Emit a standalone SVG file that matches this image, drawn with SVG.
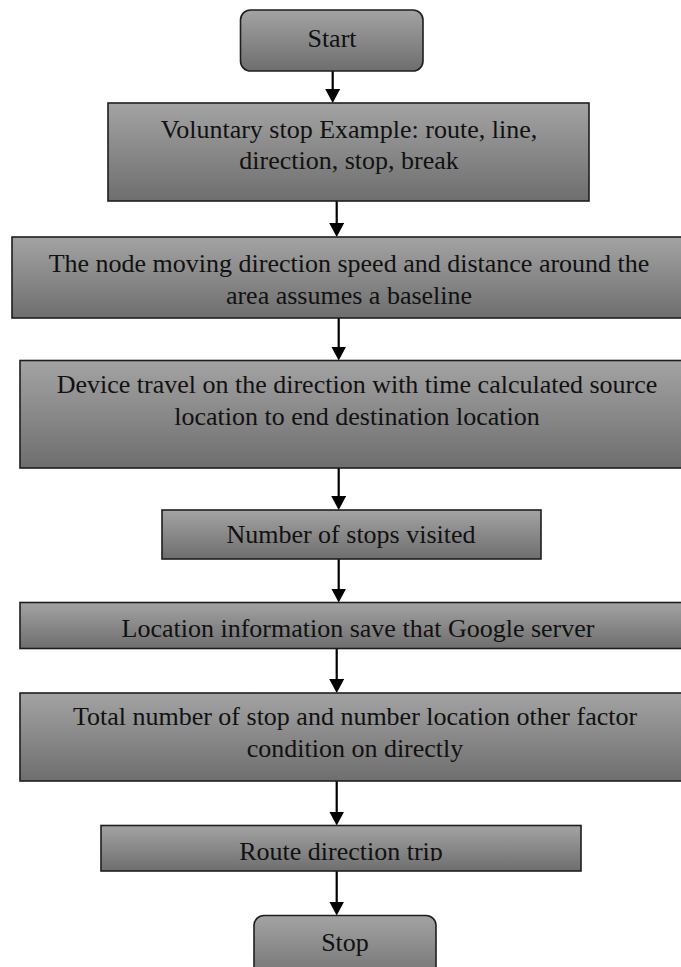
<svg xmlns="http://www.w3.org/2000/svg" width="681" height="967" viewBox="0 0 681 967">
<style>
.box{fill:url(#g);stroke:#1e1e1e;stroke-width:1.6}
.t{font-family:"Liberation Serif","Times New Roman",serif;font-size:26px;fill:#111;text-anchor:middle}
.c{stroke:#000;stroke-width:2.2;fill:none;marker-end:url(#ah)}
</style>
<defs>
<linearGradient id="g" x1="0" y1="0" x2="0" y2="1">
<stop offset="0" stop-color="#a3a3a3"/>
<stop offset="1" stop-color="#6e6e6e"/>
</linearGradient>
<marker id="ah" viewBox="0 0 14 15" refX="6" refY="7.5" markerWidth="14" markerHeight="15" markerUnits="userSpaceOnUse" orient="auto">
<path d="M0,0 L14,7.5 L0,15 z" fill="#000"/>
</marker>
<clipPath id="clip6"><rect x="0" y="590" width="681" height="52"/></clipPath>
<clipPath id="clip8"><rect x="0" y="820" width="681" height="41"/></clipPath>
</defs>
<rect width="681" height="967" fill="#fff"/>
<g id="connectors">
<line class="c" x1="332.7" y1="71" x2="332.7" y2="95"/>
<line class="c" x1="336.7" y1="201" x2="336.7" y2="229"/>
<line class="c" x1="338.7" y1="318" x2="338.7" y2="352.5"/>
<line class="c" x1="338.7" y1="468" x2="338.7" y2="502"/>
<line class="c" x1="338.7" y1="559" x2="338.7" y2="594.5"/>
<line class="c" x1="336.7" y1="648.5" x2="336.7" y2="685"/>
<line class="c" x1="336.7" y1="781" x2="336.7" y2="817.5"/>
<line class="c" x1="336.7" y1="871" x2="336.7" y2="907.5"/>
</g>
<g id="start">
<rect class="box" x="240.5" y="10" width="182.5" height="61" rx="10"/>
<text class="t" x="332" y="47">Start</text>
</g>
<g id="voluntary">
<rect class="box" x="108" y="103" width="481" height="98"/>
<text class="t" x="349" y="137.5">Voluntary stop Example: route, line,</text>
<text class="t" x="349" y="169">direction, stop, break</text>
</g>
<g id="node-moving">
<rect class="box" x="12" y="237" width="680" height="81"/>
<text class="t" x="349" y="272">The node moving direction speed and distance around the</text>
<text class="t" x="349" y="303.5">area assumes a baseline</text>
</g>
<g id="device-travel">
<rect class="box" x="20" y="360.5" width="680" height="107.5"/>
<text class="t" x="357" y="393">Device travel on the direction with time calculated source</text>
<text class="t" x="357" y="425">location to end destination location</text>
</g>
<g id="stops-visited">
<rect class="box" x="162" y="510" width="379" height="49"/>
<text class="t" x="351" y="543">Number of stops visited</text>
</g>
<g id="location-info">
<rect class="box" x="20" y="602.5" width="680" height="46"/>
<text class="t" x="358" y="637" clip-path="url(#clip6)">Location information save that Google server</text>
</g>
<g id="total-number">
<rect class="box" x="20" y="693" width="680" height="88"/>
<text class="t" x="355" y="725">Total number of stop and number location other factor</text>
<text class="t" x="355" y="757">condition on directly</text>
</g>
<g id="route-direction">
<rect class="box" x="101" y="825.5" width="480" height="45.5"/>
<text class="t" x="341" y="860" clip-path="url(#clip8)">Route direction trip</text>
</g>
<g id="stop">
<rect class="box" x="254" y="915.5" width="182" height="70" rx="10"/>
<text class="t" x="345" y="951">Stop</text>
</g>
</svg>
